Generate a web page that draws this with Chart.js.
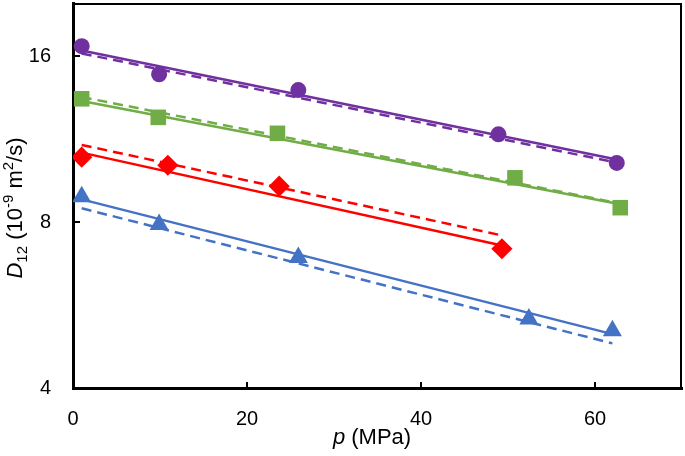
<!DOCTYPE html>
<html>
<head>
<meta charset="utf-8">
<script src="https://cdn.jsdelivr.net/npm/chart.js@4"></script>
<style>
  body { margin: 0; background: #fff; }
  #wrap { position: relative; width: 685px; height: 456px; }
</style>
</head>
<body>
<div id="wrap"><canvas id="diffChart"></canvas></div>
<script>
// measured points (p in MPa, D12 in 1e-9 m2/s)
const purpleP = [1.0, 9.9, 25.9, 48.9, 62.5];
const purpleD = [16.7, 14.85, 13.9, 11.55, 10.25];
const greenP = [1.0, 9.8, 23.5, 50.8, 62.9];
const greenD = [13.4, 12.4, 11.6, 9.63, 8.5];
const redP = [1.0, 10.9, 23.7, 49.3];
const redD = [10.5, 10.15, 9.3, 7.16];
const blueP = [1.0, 9.9, 25.9, 52.4, 62.0];
const blueD = [8.9, 7.92, 6.9, 5.34, 5.08];

// fitted lines (solid) and model lines (dashed)
const purpleFitP = [1, 62.5], purpleFitD = [16.4, 10.4];
const purpleModelP = [1, 62], purpleModelD = [16.2, 10.3];
const greenFitP = [1, 62.9], greenFitD = [13.28, 8.62];
const greenModelP = [1, 62.9], greenModelD = [13.5, 8.65];
const redFitP = [1, 49.3], redFitD = [10.7, 7.26];
const redModelP = [1, 49.3], redModelD = [11.05, 7.57];
const blueFitP = [1, 62], blueFitD = [8.8, 5.01];
const blueModelP = [1, 62], blueModelD = [8.48, 4.82];

const xTicks = [0, 20, 40, 60];
const yTicks = [4, 8, 16];

const purple = "#7030A0", green = "#70AD47", red = "#FF0000", blue = "#4472C4";
const font = "'Liberation Sans', Arial, sans-serif";

function pts(xs, ys) {
  return xs.map((x, i) => ({ x: x, y: ys[i] }));
}

function marks(xs, ys, color, style, r) {
  return {
    data: pts(xs, ys), showLine: false, pointStyle: style, pointRadius: r,
    pointBackgroundColor: color, pointBorderColor: color, pointBorderWidth: 0, order: 1
  };
}

function line(xs, ys, color, dashed) {
  return {
    data: pts(xs, ys), borderColor: color, borderWidth: 2.5, pointRadius: 0,
    borderDash: dashed ? [10, 6] : [], fill: false, order: 2
  };
}

function drawParts(ctx, parts, cx, cy) {
  let total = 0;
  parts.forEach(p => {
    ctx.font = (p.italic ? "italic " : "") + p.size + "px " + font;
    p.w = ctx.measureText(p.text).width;
    total += p.w;
  });
  let x = cx - total / 2;
  ctx.textBaseline = "alphabetic";
  ctx.textAlign = "left";
  parts.forEach(p => {
    ctx.font = (p.italic ? "italic " : "") + p.size + "px " + font;
    ctx.fillText(p.text, x, cy + (p.dy || 0));
    x += p.w;
  });
}

const framePlugin = {
  id: "frame",
  afterDraw(chart) {
    const ctx = chart.ctx;
    const a = chart.chartArea;
    const xs = chart.scales.x, ys = chart.scales.y;
    ctx.save();
    ctx.strokeStyle = "#000";
    ctx.lineWidth = 2;
    ctx.beginPath();
    ctx.moveTo(a.left, a.top + 1);
    ctx.lineTo(a.right - 1, a.top + 1);
    ctx.lineTo(a.right - 1, a.bottom);
    ctx.stroke();
    // inward tick marks
    ctx.beginPath();
    xTicks.forEach(v => {
      const px = Math.round(xs.getPixelForValue(v));
      ctx.moveTo(px, a.bottom);
      ctx.lineTo(px, a.bottom - 6);
    });
    yTicks.forEach(v => {
      const py = Math.round(ys.getPixelForValue(v));
      ctx.moveTo(a.left, py);
      ctx.lineTo(a.left + 7, py);
    });
    ctx.stroke();

    // axis titles
    ctx.fillStyle = "#000";
    drawParts(ctx, [
      { text: "p", size: 22, italic: true },
      { text: " (MPa)", size: 22 }
    ], 372, 444);

    ctx.translate(22, 208);
    ctx.rotate(-Math.PI / 2);
    drawParts(ctx, [
      { text: "D", size: 22, italic: true },
      { text: "12", size: 15, dy: 5 },
      { text: " (10", size: 22 },
      { text: "-9", size: 15, dy: -9 },
      { text: " m", size: 22 },
      { text: "2", size: 15, dy: -9 },
      { text: "/s)", size: 22 }
    ], 0, 0);
    ctx.restore();
  }
};

const ctx = document.getElementById("diffChart").getContext("2d");
const chart = new Chart(ctx, {
  type: "line",
  data: {
    datasets: [
      line(purpleFitP, purpleFitD, purple, false),
      line(purpleModelP, purpleModelD, purple, true),
      line(greenFitP, greenFitD, green, false),
      line(greenModelP, greenModelD, green, true),
      line(redFitP, redFitD, red, false),
      line(redModelP, redModelD, red, true),
      line(blueFitP, blueFitD, blue, false),
      line(blueModelP, blueModelD, blue, true),
      marks(purpleP, purpleD, purple, "circle", 8),
      marks(greenP, greenD, green, "rect", 11),
      marks(redP, redD, red, "rectRot", 10.6),
      marks(blueP, blueD, blue, "triangle", 11)
    ]
  },
  options: {
    responsive: true,
    maintainAspectRatio: false,
    animation: false,
    layout: { autoPadding: false, padding: { top: 3, right: 3, left: 0, bottom: 0 } },
    plugins: { legend: { display: false }, tooltip: { enabled: false } },
    scales: {
      x: {
        type: "linear", min: 0, max: 70,
        afterBuildTicks: s => { s.ticks = xTicks.map(v => ({ value: v })); },
        afterFit: s => { s.height = 68; s.paddingLeft = 0; s.paddingRight = 0; },
        grid: { display: false, drawTicks: false },
        border: { display: true, color: "#000", width: 3 },
        ticks: { color: "#000", padding: 19, font: { family: font, size: 20 } }
      },
      y: {
        type: "logarithmic", min: 4, max: 20,
        afterBuildTicks: s => { s.ticks = yTicks.map(v => ({ value: v })); },
        afterFit: s => { s.width = 73; s.paddingTop = 0; s.paddingBottom = 0; },
        grid: { display: false, drawTicks: false },
        border: { display: true, color: "#000", width: 3 },
        ticks: { color: "#000", padding: 22, font: { family: font, size: 20 },
          callback: v => String(v) }
      }
    }
  },
  plugins: [framePlugin]
});
</script>
</body>
</html>
